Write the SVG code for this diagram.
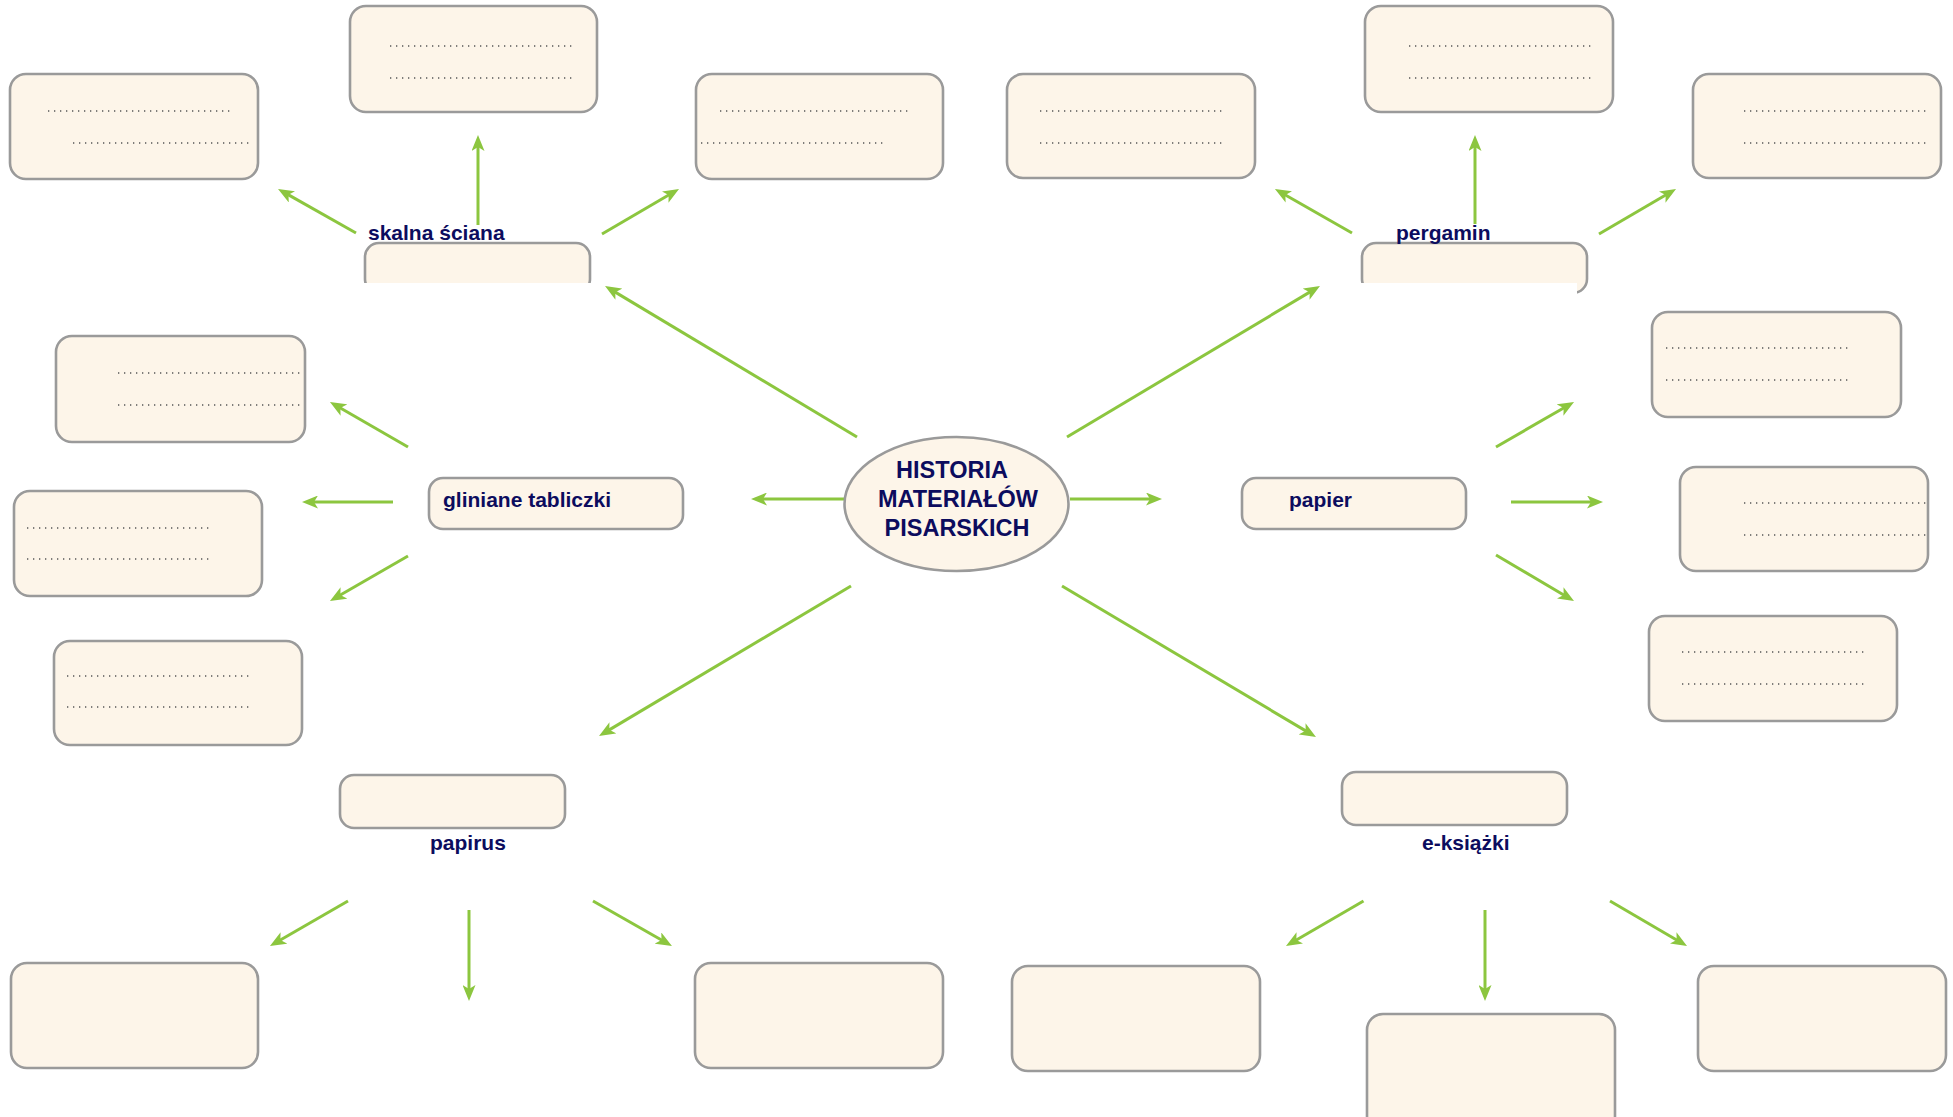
<svg xmlns="http://www.w3.org/2000/svg" width="1953" height="1117" viewBox="0 0 1953 1117">
<style>
.box{fill:#fdf5e9;stroke:#9a9a9a;stroke-width:2.6}
.dots{stroke:#555;stroke-width:1.3;stroke-dasharray:1.3 4.7;fill:none}
.lbl{font-family:"Liberation Sans",Arial,sans-serif;font-weight:bold;font-size:21px;fill:#0c0c5e}
.title{font-family:"Liberation Sans",Arial,sans-serif;font-weight:bold;font-size:23.5px;fill:#0c0c5e;text-anchor:middle}
.arr{stroke:#8cc63f;stroke-width:3;fill:none;marker-end:url(#ah)}
</style>
<defs>
<marker id="ah" viewBox="0 0 16 13" refX="8" refY="6.5" markerWidth="16" markerHeight="13" markerUnits="userSpaceOnUse" orient="auto">
<path d="M0,0 L16,6.5 L0,13 L4,6.5 z" fill="#8cc63f"/>
</marker>
<clipPath id="clipSk"><rect x="340" y="230" width="270" height="53"/></clipPath>
<clipPath id="clipPg"><polygon points="1340,230 1600,230 1600,300 1577,300 1577,283 1340,283"/></clipPath>
</defs>
<rect width="1953" height="1117" fill="#ffffff"/>

<g id="connectors">
<line class="arr" x1="356" y1="233" x2="285" y2="192.9"/>
<line class="arr" x1="478" y1="225" x2="478" y2="143"/>
<line class="arr" x1="602" y1="234" x2="672.1" y2="193"/>
<line class="arr" x1="857" y1="437" x2="611.9" y2="290.1"/>
<line class="arr" x1="1067" y1="437" x2="1313.1" y2="290.1"/>
<line class="arr" x1="844" y1="499" x2="759" y2="499"/>
<line class="arr" x1="1070" y1="499" x2="1154" y2="499"/>
<line class="arr" x1="851" y1="586" x2="605.9" y2="731.9"/>
<line class="arr" x1="1062" y1="586" x2="1309.1" y2="732.9"/>
<line class="arr" x1="1352" y1="233" x2="1281.9" y2="193"/>
<line class="arr" x1="1475" y1="224" x2="1475" y2="143"/>
<line class="arr" x1="1599" y1="234" x2="1669.1" y2="193"/>
<line class="arr" x1="408" y1="447" x2="336.9" y2="406"/>
<line class="arr" x1="393" y1="502" x2="310" y2="502"/>
<line class="arr" x1="408" y1="556" x2="336.9" y2="597"/>
<line class="arr" x1="1496" y1="447" x2="1567.1" y2="406"/>
<line class="arr" x1="1511" y1="502" x2="1595" y2="502"/>
<line class="arr" x1="1496" y1="555" x2="1567.1" y2="597"/>
<line class="arr" x1="348" y1="901" x2="276.9" y2="942"/>
<line class="arr" x1="469" y1="910" x2="469" y2="993"/>
<line class="arr" x1="593" y1="901" x2="665" y2="942"/>
<line class="arr" x1="1363.5" y1="901" x2="1292.9" y2="942"/>
<line class="arr" x1="1485" y1="910" x2="1485" y2="993"/>
<line class="arr" x1="1610" y1="901" x2="1680.1" y2="942"/>
</g>

<g id="center">
<ellipse cx="956.5" cy="504" rx="112" ry="67" class="box"/>
<text class="title" x="952" y="478">HISTORIA</text>
<text class="title" x="958" y="507">MATERIAŁÓW</text>
<text class="title" x="957" y="536">PISARSKICH</text>
</g>

<g id="node-skalna">
<rect class="box" x="365" y="243" width="225" height="50" rx="14" clip-path="url(#clipSk)"/>
<text class="lbl" x="368" y="240">skalna ściana</text>
</g>
<g id="node-pergamin">
<rect class="box" x="1362" y="243" width="225" height="50" rx="14" clip-path="url(#clipPg)"/>
<text class="lbl" x="1396" y="240">pergamin</text>
</g>
<g id="node-gliniane">
<rect class="box" x="429" y="478" width="254" height="51" rx="14"/>
<text class="lbl" x="443" y="507">gliniane tabliczki</text>
</g>
<g id="node-papier">
<rect class="box" x="1242" y="478" width="224" height="51" rx="14"/>
<text class="lbl" x="1289" y="507">papier</text>
</g>
<g id="node-papirus">
<rect class="box" x="340" y="775" width="225" height="53" rx="14"/>
<text class="lbl" x="430" y="850">papirus</text>
</g>
<g id="node-ksiazki">
<rect class="box" x="1342" y="772" width="225" height="53" rx="14"/>
<text class="lbl" x="1422" y="850">e-książki</text>
</g>

<g id="sk-left"><rect class="box" x="10" y="74" width="248" height="105" rx="16"/>
<line class="dots" x1="48" y1="111" x2="230" y2="111"/><line class="dots" x1="73" y1="143" x2="249" y2="143"/></g>
<g id="sk-top"><rect class="box" x="350" y="6" width="247" height="106" rx="16"/>
<line class="dots" x1="390" y1="46" x2="572" y2="46"/><line class="dots" x1="390" y1="78" x2="572" y2="78"/></g>
<g id="sk-right"><rect class="box" x="696" y="74" width="247" height="105" rx="16"/>
<line class="dots" x1="720" y1="111" x2="912" y2="111"/><line class="dots" x1="701" y1="143" x2="887" y2="143"/></g>

<g id="pg-left"><rect class="box" x="1007" y="74" width="248" height="104" rx="16"/>
<line class="dots" x1="1040" y1="111" x2="1222" y2="111"/><line class="dots" x1="1040" y1="143" x2="1222" y2="143"/></g>
<g id="pg-top"><rect class="box" x="1365" y="6" width="248" height="106" rx="16"/>
<line class="dots" x1="1409" y1="46" x2="1592" y2="46"/><line class="dots" x1="1409" y1="78" x2="1592" y2="78"/></g>
<g id="pg-right"><rect class="box" x="1693" y="74" width="248" height="104" rx="16"/>
<line class="dots" x1="1744" y1="111" x2="1926" y2="111"/><line class="dots" x1="1744" y1="143" x2="1926" y2="143"/></g>

<g id="gl-upper"><rect class="box" x="56" y="336" width="249" height="106" rx="16"/>
<line class="dots" x1="118" y1="373" x2="301" y2="373"/><line class="dots" x1="118" y1="405" x2="301" y2="405"/></g>
<g id="gl-middle"><rect class="box" x="14" y="491" width="248" height="105" rx="16"/>
<line class="dots" x1="27" y1="528" x2="210" y2="528"/><line class="dots" x1="27" y1="559" x2="210" y2="559"/></g>
<g id="gl-lower"><rect class="box" x="54" y="641" width="248" height="104" rx="16"/>
<line class="dots" x1="67" y1="676" x2="250" y2="676"/><line class="dots" x1="67" y1="707" x2="250" y2="707"/></g>

<g id="pa-upper"><rect class="box" x="1652" y="312" width="249" height="105" rx="16"/>
<line class="dots" x1="1666" y1="348" x2="1848" y2="348"/><line class="dots" x1="1666" y1="380" x2="1848" y2="380"/></g>
<g id="pa-middle"><rect class="box" x="1680" y="467" width="248" height="104" rx="16"/>
<line class="dots" x1="1744" y1="503" x2="1927" y2="503"/><line class="dots" x1="1744" y1="535" x2="1927" y2="535"/></g>
<g id="pa-lower"><rect class="box" x="1649" y="616" width="248" height="105" rx="16"/>
<line class="dots" x1="1682" y1="652" x2="1865" y2="652"/><line class="dots" x1="1682" y1="684" x2="1865" y2="684"/></g>

<g id="py-left"><rect class="box" x="11" y="963" width="247" height="105" rx="16"/></g>
<g id="py-right"><rect class="box" x="695" y="963" width="248" height="105" rx="16"/></g>
<g id="ek-left"><rect class="box" x="1012" y="966" width="248" height="105" rx="16"/></g>
<g id="ek-middle"><rect class="box" x="1367" y="1014" width="248" height="118" rx="16"/></g>
<g id="ek-right"><rect class="box" x="1698" y="966" width="248" height="105" rx="16"/></g>
</svg>
